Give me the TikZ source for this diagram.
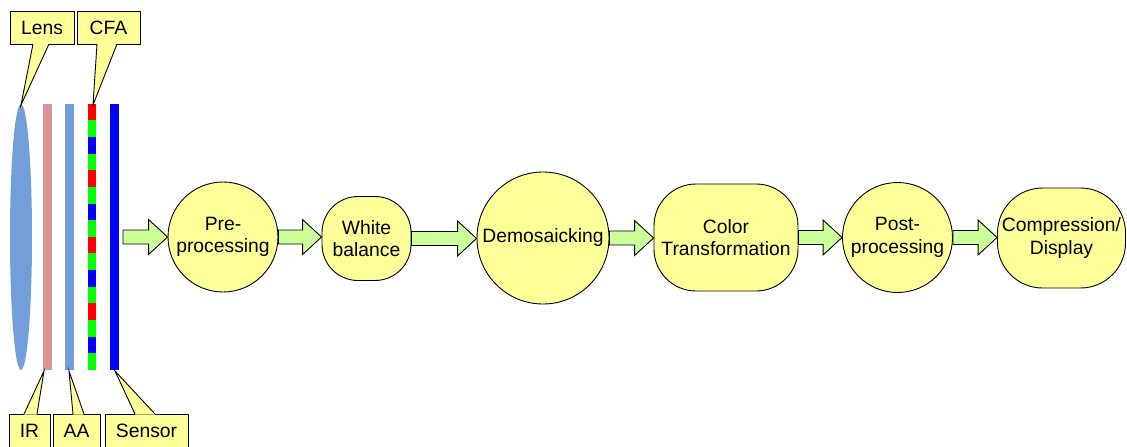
\documentclass[tikz,border=0pt]{standalone}
\usepackage{fontspec}
\setmainfont{Liberation Sans}
\usetikzlibrary{shapes.geometric,calc}
\definecolor{lensblue}{RGB}{114,158,218}
\definecolor{irpink}{RGB}{217,150,148}
\definecolor{cfared}{RGB}{255,0,0}
\definecolor{cfagreen}{RGB}{0,255,0}
\definecolor{cfablue}{RGB}{0,0,255}
\definecolor{sensorblue}{RGB}{0,0,255}
\definecolor{procyellow}{RGB}{255,255,153}
\definecolor{arrowgreen}{RGB}{204,255,153}
\newcommand\dfont{\fontsize{19.3}{22.5}\selectfont}
\newcommand\fatarr[2]{%
  \draw[fatarrow] let \p1=(#1), \p2=(#2) in
    (\x1,\y1+7pt) -- (\x2-19pt,\y1+7pt) -- (\x2-19pt,\y1+17.5pt) -- (\x2,\y1)
    -- (\x2-19pt,\y1-17.5pt) -- (\x2-19pt,\y1-7pt) -- (\x1,\y1-7pt) -- cycle;}
\tikzset{
  proc/.style={draw=black, line width=0.9pt, fill=procyellow, align=center,
    font=\dfont, inner sep=0pt},
  circproc/.style={proc, circle},
  roundproc/.style={proc, rectangle, rounded corners=#1},
  fatarrow/.style={draw=black, line width=0.9pt, fill=arrowgreen, line join=miter},
  callbox/.style={draw=black, line width=0.9pt, fill=procyellow, inner sep=0pt,
    font=\dfont},
  callfill/.style={fill=procyellow},
  callline/.style={draw=black, line width=0.9pt, line join=miter},
  bar/.style={inner sep=0pt, minimum width=9pt, minimum height=266pt, draw=none}
}
\begin{document}
\begin{tikzpicture}[x=1pt,y=-1pt]
\useasboundingbox (0,0) rectangle (1127,447);
% optics
\node[ellipse, fill=lensblue, inner sep=0pt, minimum width=22, minimum height=266] (lens) at (21,237) {};
\node[bar, fill=irpink] (ir) at (47.5,237) {};
\node[bar, fill=lensblue, minimum width=8.5] (aa) at (69.25,237) {};
\node[bar, minimum width=8] (cfa) at (92,237) {};
\foreach \i in {0,...,15}{
  \pgfmathtruncatemacro\m{mod(\i,4)}
  \ifcase\m \def\cc{cfared}\or \def\cc{cfagreen}\or \def\cc{cfablue}\or \def\cc{cfagreen}\fi
  \fill[\cc] ($(cfa.north west)+(0,\i*16.625)$) rectangle +(8,16.625);
}
\node[bar, fill=sensorblue] (sensor) at (114.5,237) {};
% callouts
\coordinate (lenstip) at (21,105);
\coordinate (cfatip) at (93,105);
\coordinate (irtip) at (44,371);
\coordinate (aatip) at (69,371);
\coordinate (sensortip) at (115,371);
\node[callbox, minimum width=64, minimum height=33] (lensbox) at (42,27.5) {Lens};
\node[callbox, minimum width=63, minimum height=33] (cfabox) at (108.5,27.5) {CFA};
\node[callbox, minimum width=41, minimum height=34] (irbox) at (29.5,431) {IR};
\node[callbox, minimum width=47, minimum height=34] (aabox) at (76.5,431) {AA};
\node[callbox, minimum width=83, minimum height=34] (sensorbox) at (146.5,431) {Sensor};
% pointers (top)
\fill[callfill] (33,43.3) -- (33,44) -- (lenstip) -- (49,44) -- (49,43.3) -- cycle;
\draw[callline] (33,44) -- (lenstip) -- (49,44);
\fill[callfill] (97,43.3) -- (97,44) -- (cfatip) -- (117,44) -- (117,43.3) -- cycle;
\draw[callline] (97,44) -- (cfatip) -- (117,44);
% pointers (bottom)
\fill[callfill] (24,414.7) -- (24,414) -- (irtip) -- (37,414) -- (37,414.7) -- cycle;
\draw[callline] (24,414) -- (irtip) -- (37,414);
\fill[callfill] (73,414.7) -- (73,414) -- (aatip) -- (84,414) -- (84,414.7) -- cycle;
\draw[callline] (73,414) -- (aatip) -- (84,414);
\fill[callfill] (135,414.7) -- (135,414) -- (sensortip) -- (155,414) -- (155,414.7) -- cycle;
\draw[callline] (135,414) -- (sensortip) -- (155,414);
% processing chain
\node[circproc, minimum size=110] (pre) at (223,237) {Pre-\\processing};
\node[roundproc=36pt, minimum width=89, minimum height=84] (wb) at (366.5,238.5) {White\\balance};
\node[circproc, minimum size=132] (demo) at (543,238) {Demosaicking};
\node[roundproc=42pt, minimum width=144, minimum height=107] (ct) at (726,237.5) {Color\\Transformation};
\node[circproc, minimum size=110] (post) at (897.5,237.5) {Post-\\processing};
\node[roundproc=45pt, minimum width=128, minimum height=100] (comp) at (1061.5,238) {Compression/\\Display};
\coordinate (start) at (123,237);
\fatarr{start}{pre.west}
\fatarr{pre.east}{wb.west}
\fatarr{wb.east}{demo.west}
\fatarr{demo.east}{ct.west}
\fatarr{ct.east}{post.west}
\fatarr{post.east}{comp.west}
\end{tikzpicture}
\end{document}
